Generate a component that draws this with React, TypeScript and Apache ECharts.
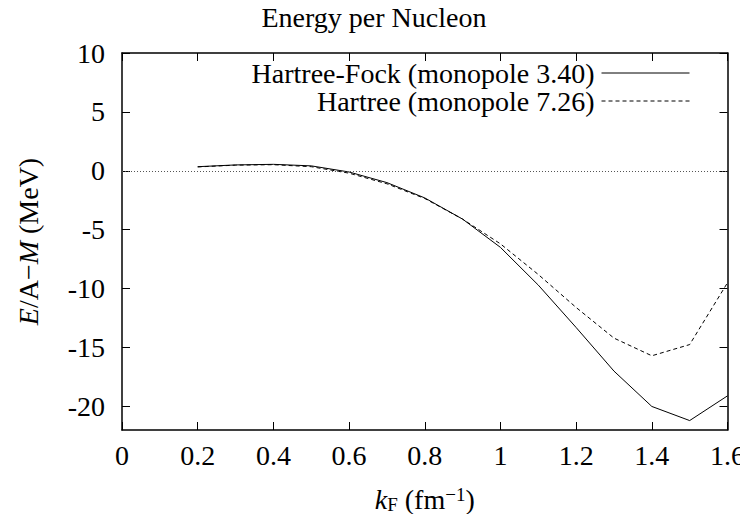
import React, { useEffect, useRef } from "react";
import * as echarts from "echarts";

const kF = [0.2, 0.3, 0.4, 0.5, 0.6, 0.7, 0.8, 0.9, 1.0, 1.1, 1.2, 1.3, 1.4, 1.5, 1.6];
const hartreeFock = [0.35, 0.5, 0.55, 0.42, -0.1, -1.0, -2.3, -4.1, -6.5, -9.7, -13.3, -17.0, -20.0, -21.2, -19.1];
const hartree = [0.33, 0.48, 0.52, 0.35, -0.2, -1.1, -2.35, -4.1, -6.2, -8.8, -11.6, -14.2, -15.7, -14.75, -9.5];
const yTicks = [-20, -15, -10, -5, 0, 5, 10];
const seriesNames = ["Hartree-Fock (monopole 3.40)", "Hartree (monopole 7.26)"];
const titleText = "Energy per Nucleon";

const FONT = "Liberation Serif, Times New Roman, serif";
const FS = 28;

export default function App() {
  const ref = useRef<HTMLDivElement>(null);
  useEffect(() => {
    if (!ref.current) return;
    const chart = echarts.init(ref.current, undefined, { renderer: "svg" });
    const pairs = (ys: number[]) => kF.map((x, i) => [x, ys[i]]);
    const xBase = {
      type: "value",
      min: 0,
      max: 1.6,
      interval: 0.2,
      axisLine: { show: true, onZero: false, lineStyle: { color: "#000", width: 1.5 } },
      axisTick: { show: true, inside: true, length: 8, lineStyle: { color: "#000", width: 1 } },
      splitLine: { show: false },
    };
    const yBase = {
      type: "value",
      min: -22,
      max: 10,
      axisLine: { show: true, onZero: false, lineStyle: { color: "#000", width: 1.5 } },
      axisTick: { show: true, inside: true, length: 8, customValues: yTicks, lineStyle: { color: "#000", width: 1 } },
      splitLine: { show: false },
    };
    chart.setOption({
      animation: false,
      textStyle: { fontFamily: FONT, color: "#000" },
      title: {
        text: titleText,
        left: "center",
        top: -2,
        textStyle: { fontFamily: FONT, fontSize: FS, fontWeight: "normal", color: "#000" },
      },
      legend: {
        orient: "vertical",
        right: 53,
        top: 54,
        align: "right",
        itemWidth: 88,
        itemHeight: 14,
        itemGap: 0,
        itemStyle: { opacity: 0 },
        lineStyle: { width: 1 },
        textStyle: { fontFamily: FONT, fontSize: FS, color: "#000", lineHeight: 22, padding: [0, 2, 0, 0] },
        data: seriesNames,
      },
      grid: { left: 122, right: 20, top: 53, bottom: 92, containLabel: false },
      xAxis: [
        {
          ...xBase,
          position: "bottom",
          axisLabel: {
            show: true,
            fontFamily: FONT,
            fontSize: FS,
            color: "#000",
            margin: 11,
            formatter: (v: number) => String(Math.round(v * 10) / 10),
          },
          name: "{i|k}{sub|F} (fm{sup|−1})",
          nameLocation: "middle",
          nameGap: 55,
          nameTextStyle: {
            fontFamily: FONT,
            fontSize: FS,
            color: "#000",
            rich: {
              i: { fontFamily: FONT, fontSize: FS, fontStyle: "italic", color: "#000" },
              sub: { fontFamily: FONT, fontSize: 19, color: "#000", padding: [10, 0, 0, 0] },
              sup: { fontFamily: FONT, fontSize: 19, color: "#000", padding: [0, 0, 10, 0] },
            },
          },
        },
        { ...xBase, position: "top", axisLabel: { show: false } },
      ],
      yAxis: [
        {
          ...yBase,
          position: "left",
          axisLabel: { show: true, customValues: yTicks, fontFamily: FONT, fontSize: FS, color: "#000", margin: 17 },
          name: "{i|E}/A−{i|M} (MeV)",
          nameLocation: "middle",
          nameRotate: 90,
          nameGap: 80,
          nameTextStyle: {
            fontFamily: FONT,
            fontSize: FS,
            color: "#000",
            rich: { i: { fontFamily: FONT, fontSize: FS, fontStyle: "italic", color: "#000" } },
          },
        },
        { ...yBase, position: "right", axisLabel: { show: false } },
      ],
      series: [
        {
          name: seriesNames[0],
          type: "line",
          data: pairs(hartreeFock),
          symbol: "none",
          lineStyle: { color: "#000", width: 1, type: "solid" },
          itemStyle: { color: "#000" },
          markLine: {
            silent: true,
            symbol: "none",
            label: { show: false },
            lineStyle: { color: "#555", width: 1, type: [1, 2] },
            data: [{ yAxis: 0 }],
          },
        },
        {
          name: seriesNames[1],
          type: "line",
          data: pairs(hartree),
          symbol: "none",
          lineStyle: { color: "#000", width: 1, type: [4, 3] },
          itemStyle: { color: "#000" },
        },
      ],
    });
    return () => chart.dispose();
  }, []);
  return <div ref={ref} style={{ width: 748, height: 522, margin: -8 }} />;
}
